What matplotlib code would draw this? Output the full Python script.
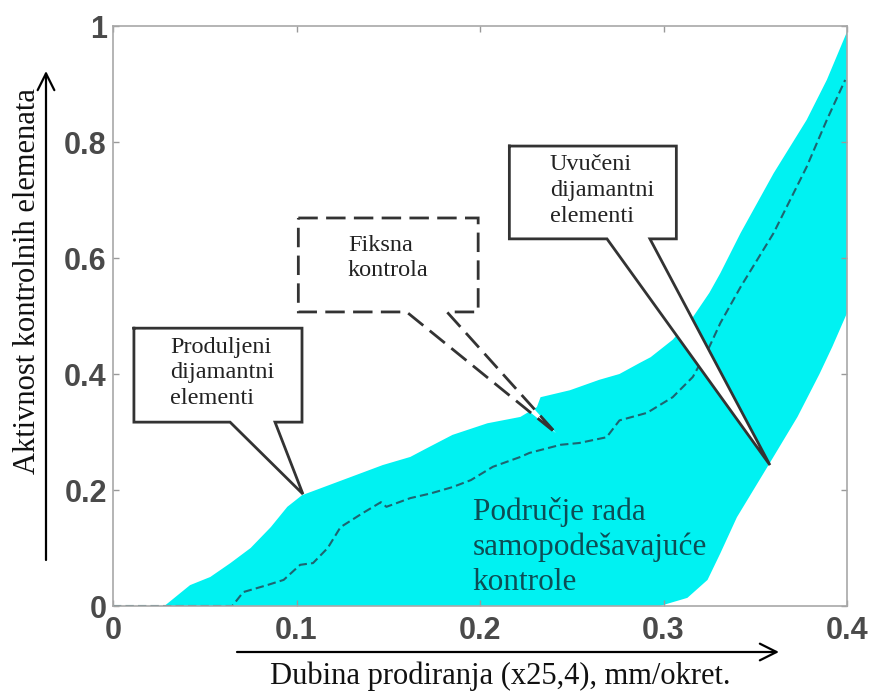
import matplotlib
matplotlib.use("Agg")
import matplotlib.pyplot as plt
import numpy as np

# ---- data ----
upper_x = [0.028, 0.042, 0.053, 0.064, 0.075, 0.086, 0.095, 0.103, 0.125, 0.147, 0.162, 0.171,
           0.185, 0.204, 0.222, 0.231, 0.233, 0.249, 0.265, 0.276, 0.287, 0.293, 0.305, 0.316,
           0.325, 0.331, 0.342, 0.360, 0.378, 0.389, 0.400]
upper_y = [0.000, 0.036, 0.050, 0.074, 0.100, 0.136, 0.171, 0.191, 0.217, 0.243, 0.257, 0.272,
           0.295, 0.315, 0.326, 0.343, 0.360, 0.372, 0.390, 0.400, 0.419, 0.429, 0.459, 0.498,
           0.540, 0.574, 0.643, 0.746, 0.838, 0.907, 0.990]

lower_x = [0.298, 0.313, 0.324, 0.331, 0.340, 0.358, 0.373, 0.385, 0.392, 0.400]
lower_y = [0.000, 0.014, 0.045, 0.091, 0.153, 0.247, 0.326, 0.400, 0.447, 0.505]

mid_x = [0.000, 0.065, 0.071, 0.084, 0.093, 0.102, 0.109, 0.117, 0.124, 0.136, 0.146, 0.149,
         0.162, 0.173, 0.185, 0.195, 0.207, 0.222, 0.227, 0.244, 0.254, 0.269, 0.276, 0.291,
         0.305, 0.316, 0.325, 0.331, 0.342, 0.360, 0.378, 0.389, 0.399]
mid_y = [0.000, 0.000, 0.024, 0.036, 0.045, 0.071, 0.074, 0.100, 0.136, 0.160, 0.179, 0.171,
         0.186, 0.194, 0.205, 0.217, 0.240, 0.257, 0.264, 0.278, 0.281, 0.291, 0.320, 0.333,
         0.360, 0.395, 0.447, 0.488, 0.550, 0.643, 0.757, 0.838, 0.907]

x_ticks = [0.0, 0.1, 0.2, 0.3, 0.4]
x_ticklabels = ["0", "0.1", "0.2", "0.3", "0.4"]
y_ticks = [0.0, 0.2, 0.4, 0.6, 0.8, 1.0]
y_ticklabels = ["0", "0.2", "0.4", "0.6", "0.8", "1"]

xlabel = "Dubina prodiranja (x25,4), mm/okret."
ylabel = "Aktivnost kontrolnih elemenata"
region_text = "Područje rada\nsamopodešavajuće\nkontrole"

callout_texts = ["Produljeni\ndijamantni\nelementi", "Fiksna\nkontrola",
                 "Uvučeni\ndijamantni\nelementi"]

# ---- layout (positions / styles) ----
SERIF = "Liberation Serif"
SANS = "Liberation Sans"
CYAN = "#00F2F2"
DASH_COLOR = "#1e6470"
EDGE = "#333333"

# callout geometry: box (x0, x1, ybottom, ytop), pointer base (xa, xb), tip (xt, yt), text anchor
callouts = [
    dict(box=(0.0114, 0.103, 0.317, 0.479), base=(0.0638, 0.0883), tip=(0.1035, 0.193),
         txt=(0.031, 0.402), ls="-", fs=17.5),
    dict(box=(0.101, 0.199, 0.507, 0.669), base=(0.160, 0.182), tip=(0.2414, 0.298),
         txt=(0.128, 0.600), ls=(0, (7, 3)), fs=17.5),
    dict(box=(0.216, 0.307, 0.633, 0.793), base=(0.2692, 0.2926), tip=(0.358, 0.243),
         txt=(0.238, 0.716), ls="-", fs=17.5),
]

fig = plt.figure(figsize=(8.71, 6.93), dpi=100)
ax = fig.add_axes([113 / 871, 87 / 693, 734 / 871, 580 / 693])

fill_x = np.concatenate([upper_x, lower_x[::-1]])
fill_y = np.concatenate([upper_y, lower_y[::-1]])
ax.fill(fill_x, fill_y, color=CYAN, lw=0, zorder=1)
ax.plot(mid_x, mid_y, color=DASH_COLOR, lw=1.5, ls=(0, (4, 2)), zorder=2)

for c, t in zip(callouts, callout_texts):
    x0, x1, yb, yt = c["box"]
    xa, xb = c["base"]
    tx, ty = c["tip"]
    px = [x0, x1, x1, xb, tx, xa, x0, x0]
    py = [yt, yt, yb, yb, ty, yb, yb, yt]
    ax.fill(px, py, facecolor="white", edgecolor="none", zorder=3)
    ax.plot(px, py, color=EDGE, lw=2.0, ls=c["ls"], zorder=4, solid_joinstyle="miter",
            dash_joinstyle="miter", clip_on=False)
    ax.text(c["txt"][0], c["txt"][1], t, family=SERIF, fontsize=c["fs"], color="#222222",
            ha="left", va="center", linespacing=1.3, zorder=5)

ax.text(0.196, 0.102, region_text, family=SERIF, fontsize=22.5, color="#0d4d55",
        ha="left", va="center", linespacing=1.25, zorder=5)

ax.set_xlim(0, 0.4)
ax.set_ylim(0, 1)
ax.set_xticks(x_ticks)
ax.set_xticklabels(x_ticklabels)
ax.set_yticks(y_ticks)
ax.set_yticklabels(y_ticklabels)
for lab in ax.get_xticklabels() + ax.get_yticklabels():
    lab.set_family(SANS)
    lab.set_fontweight("bold")
    lab.set_fontsize(22)
    lab.set_color("#4a4a4a")
ax.tick_params(axis="both", direction="in", length=4, width=1, color="#999999",
               top=True, right=True)
ax.tick_params(axis="x", pad=7)
ax.tick_params(axis="y", pad=4.5)
for s in ax.spines.values():
    s.set_color("#a8a8a8")
    s.set_linewidth(1.2)

# axis labels with arrows
fig.text(500 / 871, 1 - 676 / 693, xlabel, family=SERIF, fontsize=22, ha="center",
         va="center", color="#111111")
fig.text(28 / 871, 1 - 281 / 693, ylabel, family=SERIF, fontsize=22, ha="center",
         va="center", rotation=90, color="#111111")
fig.add_artist(matplotlib.patches.FancyArrowPatch(
    (237 / 871, 1 - 652 / 693), (779 / 871, 1 - 652 / 693), transform=fig.transFigure,
    arrowstyle="->,head_length=12,head_width=6", color="black", lw=1.6,
    mutation_scale=1, shrinkA=0, shrinkB=0))
fig.add_artist(matplotlib.patches.FancyArrowPatch(
    (46 / 871, 1 - 560 / 693), (46 / 871, 1 - 71 / 693), transform=fig.transFigure,
    arrowstyle="->,head_length=12,head_width=6", color="black", lw=1.6,
    mutation_scale=1, shrinkA=0, shrinkB=0))

fig.savefig("out.png", dpi=100)
